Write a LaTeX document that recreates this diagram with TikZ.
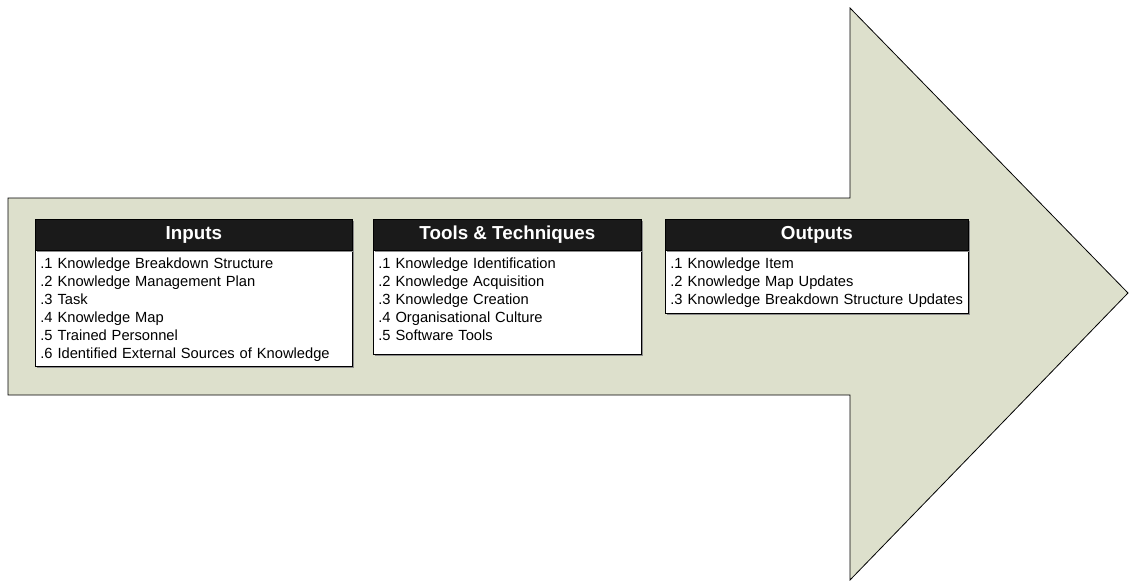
\documentclass[tikz,border=0pt]{standalone}
\usepackage{fontspec}
\setmainfont{Liberation Sans}
\usetikzlibrary{shadows}
\definecolor{arrowfill}{RGB}{221,224,204}
\definecolor{headfill}{RGB}{26,26,26}
\tikzset{
	head/.style={draw=black, fill=headfill, text=white, anchor=north west, inner sep=0pt, minimum height=31pt, font=\bfseries\fontsize{18.8}{20}\selectfont, drop shadow={shadow xshift=1.5pt, shadow yshift=-1.5pt, fill=black!45, opacity=1}},
	body/.style={draw=black, fill=white, anchor=north west, align=left, inner xsep=5pt, inner ysep=4pt, text height=14pt, font=\fontsize{14.7}{18}\selectfont, drop shadow={shadow xshift=1.5pt, shadow yshift=-1.5pt, fill=black!45, opacity=1}}
}
\begin{document}
\begin{tikzpicture}[x=1pt, y=-1pt, line width=0.8pt]

	\useasboundingbox (0,0) rectangle (1133,583);

	\draw[fill=arrowfill]	(8,198) -- (850,198) -- (850,8) -- (1128,293) -- (850,580) -- (850,395) -- (8,395) -- cycle;

	\node 	(inbody)	at	(35,250) 	[body, text width=307pt, text depth=94pt]{.1 Knowledge Breakdown Structure\\.2 Knowledge Management Plan\\.3 Task\\.4 Knowledge Map\\.5 Trained Personnel\\.6 Identified External Sources of Knowledge};
	\node 	(inhead)	at	(35,219) 	[head, minimum width=317pt]{Inputs};

	\node 	(ttbody)	at	(373,250) 	[body, text width=258pt, text depth=82pt]{.1 Knowledge Identification\\.2 Knowledge Acquisition\\.3 Knowledge Creation\\.4 Organisational Culture\\.5 Software Tools};
	\node 	(tthead)	at	(373,219) 	[head, minimum width=268pt]{Tools \& Techniques};

	\node 	(outbody)	at	(665,250) 	[body, text width=293pt, text depth=41pt]{.1 Knowledge Item\\.2 Knowledge Map Updates\\.3 Knowledge Breakdown Structure Updates};
	\node 	(outhead)	at	(665,219) 	[head, minimum width=303pt]{Outputs};

\end{tikzpicture}
\end{document}
